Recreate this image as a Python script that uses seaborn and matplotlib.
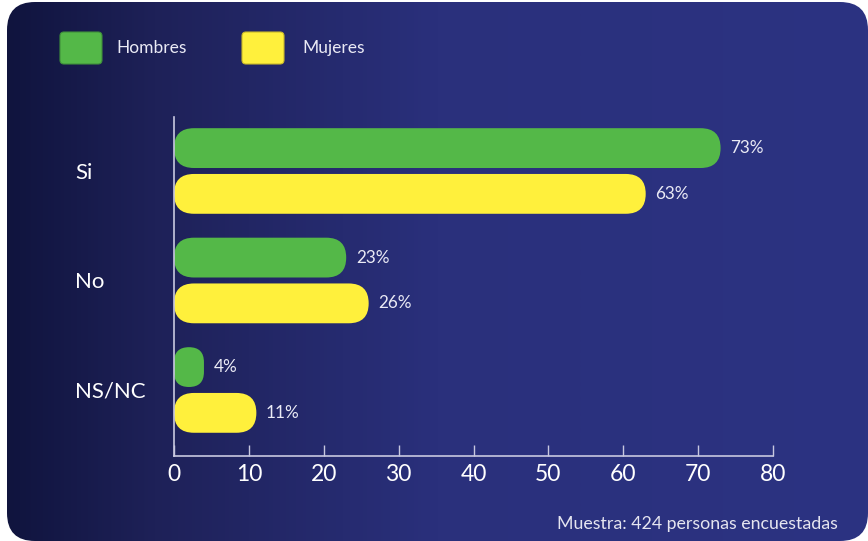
import numpy as np
import pandas as pd
import seaborn as sns
import matplotlib.pyplot as plt
from matplotlib.patches import FancyBboxPatch
from matplotlib.colors import LinearSegmentedColormap


# Datos
respuestas = ['Si', 'No', 'NS/NC']
hombres = [73, 23, 4]
mujeres = [63, 26, 11]
grupos = ['Hombres', 'Mujeres']
ticks_x = [0, 10, 20, 30, 40, 50, 60, 70, 80]
nota = 'Muestra: 424 personas encuestadas'

colores = {'Hombres': '#54b848', 'Mujeres': '#fff03c'}
bordes = {'Hombres': '#3f8f3a', 'Mujeres': '#c9b82a'}

df = pd.DataFrame({
    'respuesta': respuestas * 2,
    'sexo': [grupos[0]] * len(hombres) + [grupos[1]] * len(mujeres),
    'valor': hombres + mujeres,
})

W, H = 868, 541
sns.set_theme(style='white')
plt.rcParams['font.family'] = ['Lato', 'DejaVu Sans']

fig = plt.figure(figsize=(W / 100, H / 100), dpi=100)
fig.patch.set_facecolor('white')

# Fondo con degradado y esquinas redondeadas (coordenadas en pixeles)
bg = fig.add_axes([0, 0, 1, 1])
bg.set_xlim(0, W)
bg.set_ylim(H, 0)
bg.axis('off')
cmap = LinearSegmentedColormap.from_list(
    'fondo', [(0, '#10143e'), (0.17, '#1e2158'), (0.5, '#2a307c'), (1, '#2c3382')])
grad = np.linspace(0, 1, 512).reshape(1, -1)
im = bg.imshow(grad, cmap=cmap, extent=[7, W, H, 2], aspect='auto')
panel = FancyBboxPatch((7, 2), W - 7, H - 2, boxstyle='round,pad=0,rounding_size=28',
                       fc='none', ec='none')
bg.add_patch(panel)
im.set_clip_path(panel)

# Leyenda
for x0, xt, g in zip([60, 242], [116, 302], grupos):
    bg.add_patch(FancyBboxPatch((x0, 32), 42, 32, boxstyle='round,pad=0,rounding_size=4',
                                fc=colores[g], ec=bordes[g], lw=0.8))
    bg.text(xt, 48, g, fontsize=12.5, color='#eaeaf5', va='center', ha='left')

# Nota
bg.text(557, 524, nota, fontsize=12.8, color='#e5e5f0', va='center', ha='left')

# Grafico principal
ax = fig.add_axes([174 / W, (H - 456) / H, 599 / W, (456 - 117) / H])
ax.set_facecolor('none')
sns.barplot(data=df, x='valor', y='respuesta', hue='sexo', palette=colores,
            orient='h', width=0.836, gap=0.13, saturation=1, legend=False, ax=ax)

ax.set_xlim(0, 80)
ax.set_ylim(2.603, -0.493)
ax.set_xticks(ticks_x)
ax.set_xlabel('')
ax.set_ylabel('')

# Etiquetas de valor
for cont in ax.containers:
    ax.bar_label(cont, fmt='%.0f%%', padding=7, fontsize=12.3, color='#eaeaf5')

# Barras con extremos redondeados
px = ax.transData.transform([(0, 0), (1, 1)])
sx = abs(px[1, 0] - px[0, 0])
sy = abs(px[1, 1] - px[0, 1])
for p in list(ax.patches):
    x0, y0 = p.get_x(), p.get_y()
    w, h = p.get_width(), p.get_height()
    r = min(w * sx, h * sy) / 2
    nueva = FancyBboxPatch((x0, y0), w, h,
                           boxstyle=f'round,pad=0,rounding_size={r / sx}',
                           mutation_aspect=sx / sy, fc=p.get_facecolor(), ec='none')
    p.remove()
    ax.add_patch(nueva)

sns.despine(ax=ax)
for s in ['left', 'bottom']:
    ax.spines[s].set_color('#c8c8e0')
    ax.spines[s].set_linewidth(1.2)
ax.tick_params(axis='x', bottom=True, direction='in', length=8, width=1,
               color='#c8c8e0', labelsize=16.5, labelcolor='white', pad=6)
ax.tick_params(axis='y', left=False, length=0, labelsize=16, labelcolor='white', pad=71)
for lab in ax.get_yticklabels():
    lab.set_ha('left')

fig.savefig('out.png', dpi=100)
